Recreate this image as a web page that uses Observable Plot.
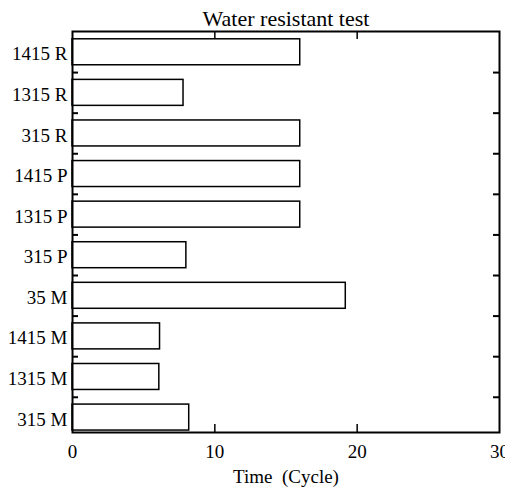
<!DOCTYPE html>
<html>
<head>
<meta charset="utf-8">
<script src="https://cdn.jsdelivr.net/npm/d3@7"></script>
<script src="https://cdn.jsdelivr.net/npm/@observablehq/plot@0.6"></script>
<style>
  body { margin: 0; background: #fff; }
  #chart svg { display: block; }
</style>
</head>
<body>
<div id="chart"></div>
<script>
const categories = ["1415 R", "1315 R", "315 R", "1415 P", "1315 P", "315 P", "35 M", "1415 M", "1315 M", "315 M"];
const values = [16, 7.8, 16, 16, 16, 8, 19.2, 6.15, 6.1, 8.2];
const xTicks = [0, 10, 20, 30];
const title = "Water resistant test";
const xLabel = "Time\u00a0\u00a0(Cycle)";

const data = categories.map((c, i) => ({ cat: c, value: values[i] }));

const W = 505, H = 487;
const mL = 72, mR = 6, mT = 31, mB = 55;
const fw = W - mL - mR, fh = H - mT - mB;
const pInner = 0.36, pOuter = 0.12;
const step = fh / (categories.length - pInner + 2 * pOuter);

const chart = Plot.plot({
  width: W,
  height: H,
  marginLeft: mL,
  marginRight: mR,
  marginTop: mT,
  marginBottom: mB,
  style: { fontFamily: "'Liberation Serif', serif", fontSize: "19px", color: "black", background: "white", overflow: "visible" },
  x: { domain: [0, 30], ticks: xTicks, label: null },
  y: { domain: categories, paddingInner: pInner, paddingOuter: pOuter, align: 0.8, round: false, label: null },
  marks: [
    Plot.barX(data, { x: "value", y: "cat", fill: "white", stroke: "black", strokeWidth: 1.5 }),
    // y ticks at band boundaries (left and right, inward)
    Plot.ruleY(categories.slice(0, -1), { dy: step / 2, insetRight: fw - 6, stroke: "black", strokeWidth: 2 }),
    Plot.ruleY(categories.slice(0, -1), { dy: step / 2, insetLeft: fw - 6, stroke: "black", strokeWidth: 2 }),
    // x ticks (bottom and top, inward)
    Plot.ruleX(xTicks.slice(1, -1), { insetTop: fh - 8, stroke: "black", strokeWidth: 1.5 }),
    Plot.ruleX(xTicks.slice(1, -1), { insetBottom: fh - 8, stroke: "black", strokeWidth: 1.5 }),
    Plot.frame({ stroke: "black", strokeWidth: 2 }),
    Plot.axisX({ ticks: xTicks, tickSize: 0, tickPadding: 12, fontSize: 19, label: null }),
    Plot.axisY({ tickSize: 0, tickPadding: 5, fontSize: 19, dy: 2, label: null }),
    Plot.text([title], { frameAnchor: "top", lineAnchor: "bottom", dy: -6, fontSize: 22, fill: "black" }),
    Plot.text([xLabel], { frameAnchor: "bottom", lineAnchor: "bottom", dy: 50, fontSize: 19, fill: "black" })
  ]
});
document.getElementById("chart").appendChild(chart);
</script>
</body>
</html>
